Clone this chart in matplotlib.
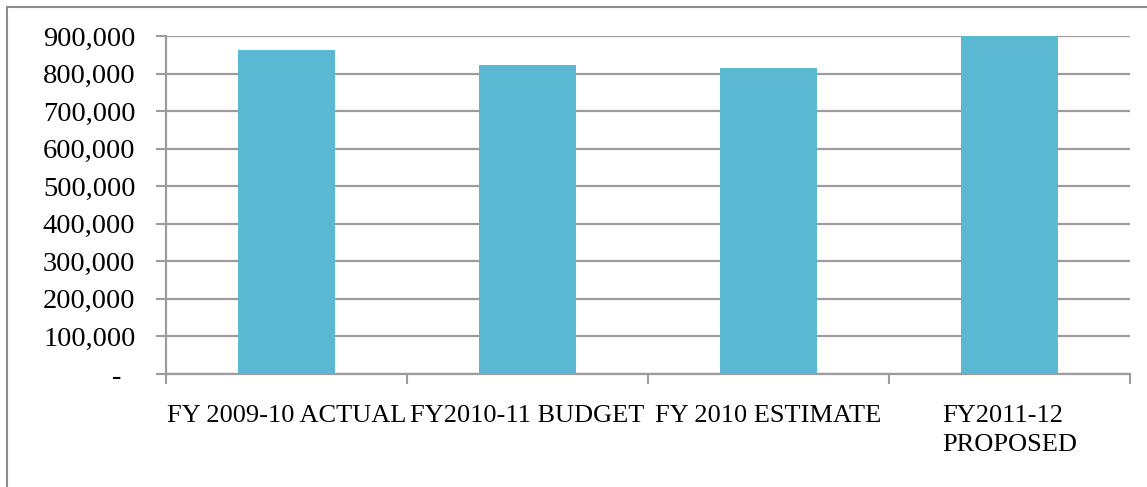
import numpy as np
import matplotlib.pyplot as plt
from matplotlib.patches import Rectangle
from matplotlib.ticker import FuncFormatter, FixedLocator

categories = ['FY 2009-10 ACTUAL', 'FY2010-11 BUDGET', 'FY 2010 ESTIMATE', 'FY2011-12\nPROPOSED']
values = [863000, 824000, 815000, 900000]
yticks = [0, 100000, 200000, 300000, 400000, 500000, 600000, 700000, 800000, 900000]

plt.rcParams['font.family'] = ['Liberation Serif', 'DejaVu Serif']

W, H = 1147, 487
fig = plt.figure(figsize=(W / 100, H / 100), dpi=100)
ax = fig.add_axes([166 / W, 1 - 374 / H, (1130 - 166) / W, (374 - 36) / H])

grey = '#9c9c9c'
x = np.arange(len(categories))
ax.bar(x, values, width=0.4, color='#5bb8d2', zorder=3)

ax.set_xlim(-0.5, len(categories) - 0.5)
ax.set_ylim(0, 900000)
ax.set_yticks(yticks)
ax.yaxis.set_major_formatter(FuncFormatter(lambda v, p: '-  ' if v == 0 else '{:,.0f}'.format(v)))
ax.grid(axis='y', color=grey, linewidth=1.6, zorder=0)
ax.set_axisbelow(True)

ax.set_xticks(x)
ax.set_xticklabels(categories, fontsize=19, linespacing=1.45)
ax.xaxis.set_minor_locator(FixedLocator(np.arange(len(categories) + 1) - 0.5))
ax.tick_params(axis='x', which='major', length=0, pad=22)
ax.tick_params(axis='x', which='minor', length=7, width=1.5, color=grey)
ax.tick_params(axis='y', length=7, width=1.5, color=grey, labelsize=20.5, pad=15)
for lab in ax.get_xticklabels():
    lab.set_verticalalignment('top')
    lab.set_multialignment('left')

for s in ['top', 'right']:
    ax.spines[s].set_visible(False)
for s in ['left', 'bottom']:
    ax.spines[s].set_color(grey)
    ax.spines[s].set_linewidth(1.6)

# outer chart frame
fig.patches.append(Rectangle((7 / W, -0.1), 1.2, 1 - 7 / H + 0.1, transform=fig.transFigure,
                             fill=False, edgecolor='#8c8c8c', linewidth=1.5))

fig.savefig('out.png', dpi=100)
